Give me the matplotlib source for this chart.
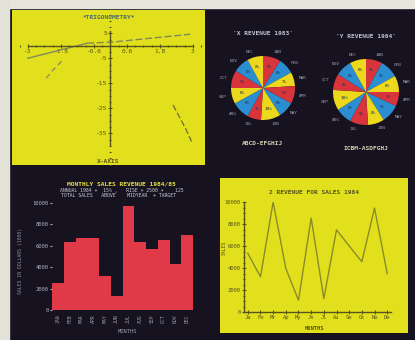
import matplotlib
matplotlib.use("Agg")
import matplotlib.pyplot as plt
import numpy as np
from matplotlib.patches import Rectangle
from matplotlib.ticker import MultipleLocator

W, H = 415, 340

# top-left: function plot
tl_x_ticks = [-3, -1.8, -0.6, 0.6, 1.8, 3]
tl_y_ticks = [5, -5, -15, -25, -35]
solid_x = [-3.0, -0.85]
solid_y = [-5.0, 1.0]
dash_x = [-0.85, 0.1, 2.9]
dash_y = [1.0, 1.5, 4.6]
left_branch_x = [-1.78, -2.09, -2.39]
left_branch_y = [-6.3, -9.7, -13.7]
right_branch_x = [2.28, 2.76, 2.95]
right_branch_y = [-23.7, -33.7, -38.3]

# top-right: two pies
pie_left_vals = [9, 8, 7, 9, 8, 10, 7, 9, 8, 9, 8, 8]
pie_right_vals = [8, 9, 8, 7, 9, 8, 9, 8, 10, 8, 8, 8]
pie_labels = ["JAN", "FEB", "MAR", "APR", "MAY", "JUN",
              "JUL", "AUG", "SEP", "OCT", "NOV", "DEC"]

# bottom-left: monthly bars
bar_months = ["JAN", "FEB", "MAR", "APR", "MAY", "JUN",
              "JUL", "AUG", "SEP", "OCT", "NOV", "DEC"]
bar_vals = [2540, 6350, 6760, 6760, 3170, 1270, 9680, 6350, 5710, 6500, 4290, 6980]

# bottom-right: line
line_months = ["Ja", "Fe", "Mr", "Ap", "My", "Jn", "Jl", "Au", "Se", "Oc", "No", "De"]
line_vals = [5340, 3200, 10000, 3960, 1070, 8540, 1220, 7470, 6000, 4570, 9450, 3500]

YELLOW = "#e2e01c"
DARK = "#16121f"
OLIVE = "#55551a"
LINE = "#7f8a5a"
PIE_COLOURS = ["#d8343c", "#2a8ed0", "#ecd81c"] * 4


def rect(x0, y0, x1, y1):
    return [x0 / W, 1 - y1 / H, (x1 - x0) / W, (y1 - y0) / H]


fig = plt.figure(figsize=(W / 100, H / 100), dpi=100, facecolor=DARK)
plt.rcParams["font.family"] = "DejaVu Sans Mono"

# light border of the photo
fig.patches.append(Rectangle((0, 1 - 8 / H), 1, 8 / H, transform=fig.transFigure,
                             color="#e6e6dc", zorder=0))
fig.patches.append(Rectangle((0, 0), 9 / W, 1, transform=fig.transFigure,
                             color="#e2e2d8", zorder=0))

# ---- top-left panel
ax = fig.add_axes(rect(12, 10, 205, 165), facecolor=YELLOW)
ax.set_xlim(-3.58, 3.44)
ax.set_ylim(-47.7, 14.3)
ax.plot(solid_x, solid_y, color=LINE, lw=1)
ax.plot(dash_x, dash_y, color=LINE, lw=1, ls=(0, (5, 2)))
ax.plot(left_branch_x, left_branch_y, color=LINE, lw=0.9, ls=(0, (4, 3)))
ax.plot(right_branch_x, right_branch_y, color="#6a6a40", lw=0.9, ls=(0, (5, 2)))
for s in ["top", "right"]:
    ax.spines[s].set_visible(False)
ax.spines["left"].set_position(("data", 0))
ax.spines["bottom"].set_position(("data", 0))
ax.spines["left"].set_bounds(-39.5, 6)
ax.spines["bottom"].set_bounds(-3, 3)
for s in ["left", "bottom"]:
    ax.spines[s].set_color(OLIVE)
    ax.spines[s].set_linewidth(1)
ax.set_xticks(tl_x_ticks)
ax.set_xticklabels([f"{t:g}" for t in tl_x_ticks])
ax.set_yticks(tl_y_ticks)
ax.set_yticklabels([f"{t:g}" for t in tl_y_ticks])
ax.xaxis.set_minor_locator(MultipleLocator(0.3))
ax.yaxis.set_minor_locator(MultipleLocator(2.5))
ax.tick_params(which="both", direction="inout", color=OLIVE, labelcolor=OLIVE,
               labelsize=4.5, length=3, width=0.8, pad=1)
ax.tick_params(which="minor", length=2)
ax.text(0.5, 0.94, "*TRIGONOMETRY*", transform=ax.transAxes, ha="center",
        fontsize=4.5, color="#4a6a6a", fontweight="bold")
ax.text(0.5, 0.01, "X-AXIS", transform=ax.transAxes, ha="center",
        fontsize=4.5, color=OLIVE, fontweight="bold")

# ---- top-right panel: pies
ax = fig.add_axes(rect(210, 10, 410, 165), facecolor=DARK)
ax.set_axis_off()
for cx, cy, r, vals, title, sub in [
    (263, 88, 32, pie_left_vals, "'X REVENUE 1983'", "ABCD-EFGHIJ"),
    (366, 92, 33, pie_right_vals, "'Y REVENUE 1984'", "ICBM-ASDFGHJ"),
]:
    pa = fig.add_axes(rect(cx - r, cy - r, cx + r, cy + r))
    pa.pie(vals, colors=PIE_COLOURS, startangle=90, counterclock=False,
           labels=pie_labels, labeldistance=1.16,
           autopct="%d%%", pctdistance=0.68,
           textprops=dict(fontsize=3.2, color="#9a9ab0"),
           wedgeprops=dict(linewidth=0))
    for t in pa.texts[1::2]:
        t.set_color("#203050")
    pa.set_xlim(-1, 1)
    pa.set_ylim(-1, 1)
    pa.text(0, 1.65, title, ha="center", fontsize=4.5, color="#c0c0d0",
            fontweight="bold")
    pa.text(0, -1.65, sub, ha="center", fontsize=4.5, color="#d0d0b0",
            fontweight="bold", va="top")

# ---- bottom-left panel: bars
bg = fig.add_axes(rect(10, 170, 213, 335), facecolor=DARK)
bg.set_xticks([])
bg.set_yticks([])
for s in bg.spines.values():
    s.set_visible(False)
bg.text(0.55, 0.905, "MONTHLY SALES REVENUE 1984/85", transform=bg.transAxes,
        ha="center", fontsize=4.5, color="#e8e040", fontweight="bold")
bg.text(0.55, 0.865, "ANNUAL 1984 +  15% ,   RISE + 2500 +    125",
        transform=bg.transAxes, ha="center", fontsize=3.5, color="#c8c8d8")
bg.text(0.55, 0.835, "TOTAL SALES   ABOVE    MIDYEAR  + TARGET  ",
        transform=bg.transAxes, ha="center", fontsize=3.5, color="#c8c8d8")
bg.text(0.05, 0.45, "SALES IN DOLLARS (1000)", transform=bg.transAxes,
        rotation=90, ha="center", va="center", fontsize=3.5, color="#8a8a9a")
bg.text(0.58, 0.01, "MONTHS", transform=bg.transAxes, ha="center",
        fontsize=4, color="#9a9aaa")

ax = fig.add_axes(rect(52, 203, 193, 310), facecolor=DARK)
ax.bar(np.arange(len(bar_vals)), bar_vals, width=1.0, align="edge",
       color="#e03a48", linewidth=0)
ax.set_xlim(0, len(bar_vals))
ax.set_ylim(0, 10000)
ax.set_yticks(range(0, 10001, 2000))
ax.set_yticklabels(["0", "2000", "4000", "6000", "8000", "10000"])
ax.set_xticks(np.arange(len(bar_months)) + 0.5)
ax.set_xticklabels(bar_months, rotation=90)
for s in ax.spines.values():
    s.set_visible(False)
ax.tick_params(axis="y", colors="#b0b0c0", labelsize=4, length=1.5, pad=1)
ax.tick_params(axis="x", colors="#9a9aaa", labelsize=3.5, length=0, pad=3)

# ---- bottom-right panel: line
bg = fig.add_axes(rect(220, 178, 408, 333), facecolor=YELLOW)
bg.set_xticks([])
bg.set_yticks([])
for s in bg.spines.values():
    s.set_visible(False)
bg.text(0.5, 0.9, "2 REVENUE FOR SALES 1984", transform=bg.transAxes,
        ha="center", fontsize=4.5, color=OLIVE, fontweight="bold")
bg.text(0.5, 0.02, "MONTHS", transform=bg.transAxes, ha="center",
        fontsize=4, color=OLIVE, fontweight="bold")
bg.text(0.02, 0.55, "SALES", transform=bg.transAxes, rotation=90,
        ha="center", va="center", fontsize=3.5, color=OLIVE)

ax = fig.add_axes(rect(244, 202, 391, 312))
ax.patch.set_alpha(0)
ax.plot(np.arange(len(line_vals)), line_vals, color="#8a8a2a", lw=1)
ax.set_xlim(-0.3, 11.3)
ax.set_ylim(0, 10000)
ax.set_yticks(range(0, 10001, 2000))
ax.set_yticklabels(["0", "2000", "4000", "6000", "8000", "10000"])
ax.yaxis.set_minor_locator(MultipleLocator(500))
ax.set_xticks(range(len(line_months)))
ax.set_xticklabels(line_months)
for s in ["top", "right"]:
    ax.spines[s].set_visible(False)
for s in ["left", "bottom"]:
    ax.spines[s].set_color(OLIVE)
    ax.spines[s].set_linewidth(1)
ax.tick_params(which="both", direction="inout", colors=OLIVE, labelsize=4,
               length=3, width=0.8, pad=1)
ax.tick_params(which="minor", length=2)

fig.savefig("out.png", dpi=100, facecolor=fig.get_facecolor())
